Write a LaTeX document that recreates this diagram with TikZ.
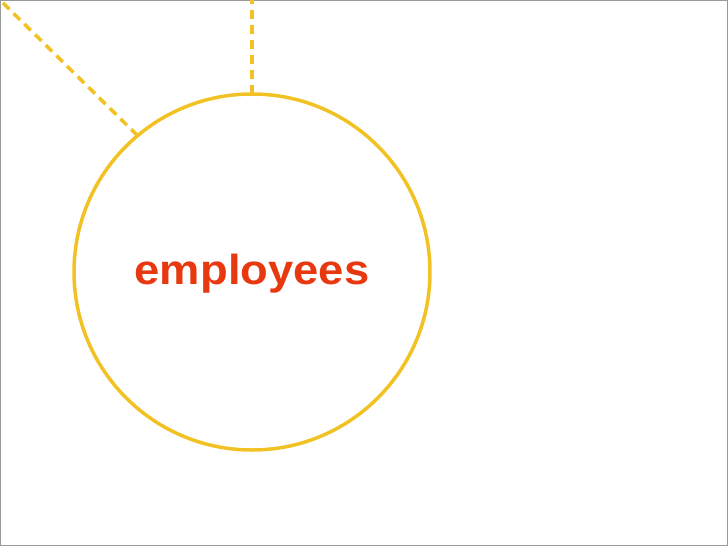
\documentclass[tikz,border=0pt]{standalone}
\usepackage{fontspec}
\setmainfont{Liberation Sans}
\definecolor{gold}{HTML}{F2C224}
\definecolor{redtext}{HTML}{E8380F}
\definecolor{framegray}{HTML}{9A9A9A}
\begin{document}
\begin{tikzpicture}[x=1pt,y=-1pt,
  ring/.style={circle, draw=gold, line width=3.5pt, minimum size=356pt, inner sep=0pt, outer sep=0pt},
  dashline/.style={draw=gold, line width=3.5pt, dash pattern=on 9pt off 6pt},
  label/.style={text=redtext, font=\fontsize{42}{46}\selectfont\bfseries, inner sep=0pt, xscale=1.08}]
\useasboundingbox (0,0) rectangle (728,546);
\fill[white] (0,0) rectangle (728,546);
\draw[framegray, line width=1.5pt] (0.5,0.5) rectangle (727.5,545.5);
\node[ring] (c) at (252,272) {};
\coordinate (tl) at (0,0);
\coordinate (top) at (252,0);
\draw[dashline] (c.north) -- (top);
\draw[dashline] (c.130) -- (tl);
\node[label, anchor=base] (t) at (252,284) {employees};
\end{tikzpicture}
\end{document}
